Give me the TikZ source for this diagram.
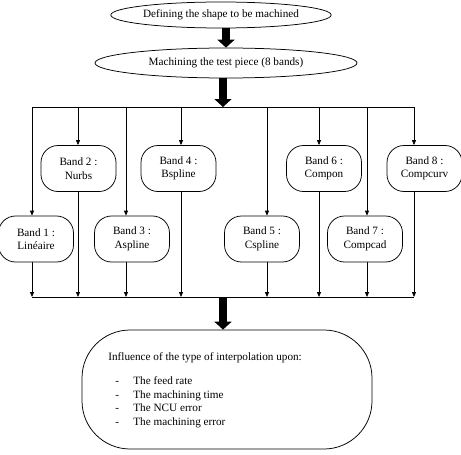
\documentclass[tikz,border=0pt]{standalone}
\usepackage{fontspec}
\setmainfont{Liberation Serif}
\usetikzlibrary{arrows.meta,shapes.geometric}

\begin{document}
\begin{tikzpicture}[x=1pt, y=-1pt, every node/.style={font=\fontsize{11.2}{13.5}\selectfont}, >={Triangle[length=5pt,width=4pt]}, line width=0.75pt]
	\useasboundingbox (0,0) rectangle (461,455);
	\tikzset{
		stage/.style={draw, ellipse, inner sep=0pt},
		band/.style={draw, rounded corners=17pt, minimum width=75pt, minimum height=46pt, align=center, inner sep=2pt},
		bigarrow/.style={line width=8pt, -{Triangle[length=8pt,width=17pt]}}
	}
	\node[stage, minimum width=200pt, minimum height=26pt] (shape) at (221,15) {Defining the shape to be machined};
	\node[stage, minimum width=262pt, minimum height=30pt] (test) at (226,63) {Machining the test piece (8 bands)};
	\node[band] (b1) at (36,239) {Band 1 :\\ Linéaire};
	\node[band] (b2) at (78.5,168.5) {Band 2 :\\ Nurbs};
	\node[band] (b3) at (132,239) {Band 3 :\\ Aspline};
	\node[band] (b4) at (178.5,168.5) {Band 4 :\\ Bspline};
	\node[band] (b5) at (262,239) {Band 5 :\\ Cspline};
	\node[band] (b6) at (324,168.5) {Band 6 :\\ Compon};
	\node[band] (b7) at (365,239) {Band 7 :\\ Compcad};
	\node[band] (b8) at (424.5,168.5) {Band 8 :\\ Compcurv};
	\node[draw, rounded corners=48pt, minimum width=290pt, minimum height=119pt] (result) at (227,389.5) {};
	\node[anchor=west, align=left, inner sep=0pt] (effects) at (108,390) {Influence of the type of interpolation upon:\\[11pt]
		\hspace*{7pt}\makebox[18pt][l]{-}The feed rate\\
		\hspace*{7pt}\makebox[18pt][l]{-}The machining time\\
		\hspace*{7pt}\makebox[18pt][l]{-}The NCU error\\
		\hspace*{7pt}\makebox[18pt][l]{-}The machining error};
	% rails
	\foreach \i/\x in {1/32,2/78,3/126,4/181,5/267,6/319,7/367,8/414} {
		\coordinate (top\i) at (\x,107);
		\coordinate (bot\i) at (\x,297);
	}
	\coordinate (feed) at (223,107);
	\coordinate (collect) at (223,297);
	\draw[line width=1pt] (top1) -- (top8);
	\draw[line width=1pt] (bot1) -- (bot8);
	\foreach \i in {1,...,8} {
		\draw[->] (top\i) -- (top\i |- b\i.north);
		\draw[->] (top\i |- b\i.south) -- (bot\i);
	}
	% main flow
	\draw[bigarrow] (shape.south -| test.north) -- (test.north);
	\draw[bigarrow] (test.south -| feed) -- (feed);
	\draw[bigarrow] (collect) -- (result.north -| collect);
\end{tikzpicture}
\end{document}
